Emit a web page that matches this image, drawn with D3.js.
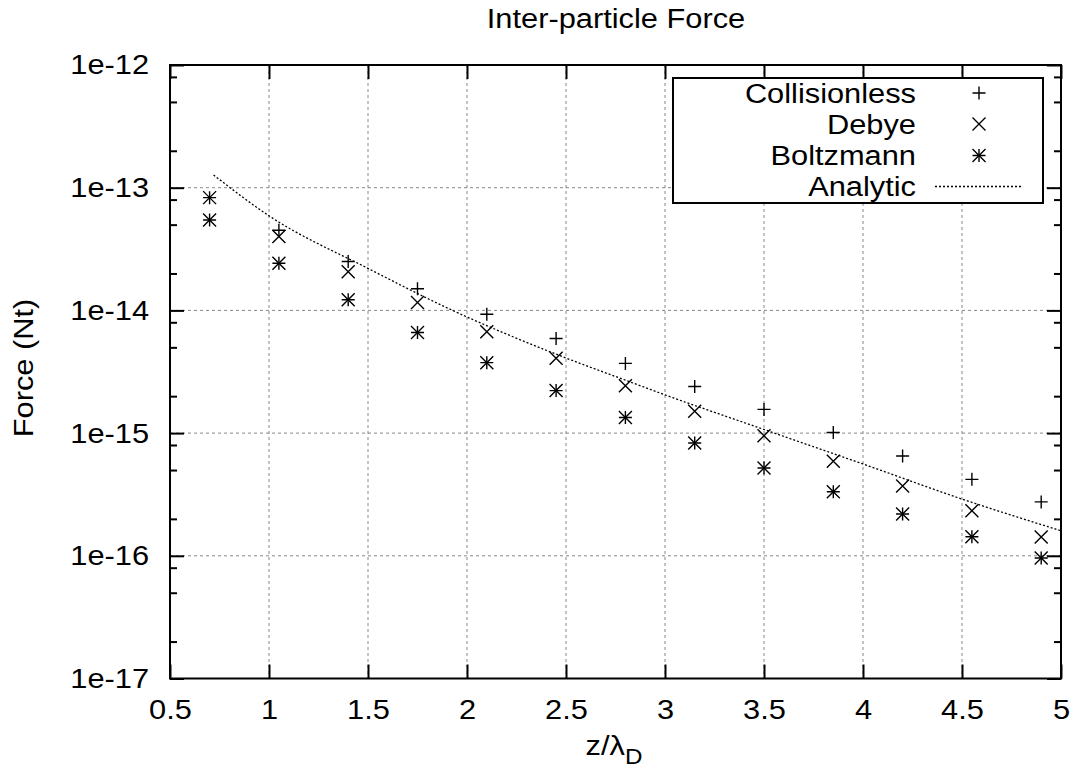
<!DOCTYPE html>
<html>
<head>
<meta charset="utf-8">
<script src="https://cdn.jsdelivr.net/npm/d3@7"></script>
<style>
  body { margin: 0; background: #fff; }
  text { font-family: "Liberation Sans", Arial, sans-serif; fill: #000; }
</style>
</head>
<body>
<svg id="chart" width="1073" height="776"></svg>
<script>
// Sample positions (z / lambda_D)
const zVals = [0.7, 1.05, 1.4, 1.75, 2.1, 2.45, 2.8, 3.15, 3.5, 3.85, 4.2, 4.55, 4.9];

// Force values (Nt)
const collisionless = [8.3e-14, 4.5e-14, 2.5e-14, 1.5e-14, 9.3e-15, 5.9e-15, 3.7e-15, 2.4e-15, 1.56e-15, 1.01e-15, 6.5e-16, 4.2e-16, 2.75e-16];
const debye = [8.3e-14, 4.0e-14, 2.07e-14, 1.16e-14, 6.7e-15, 4.07e-15, 2.43e-15, 1.51e-15, 9.5e-16, 5.9e-16, 3.7e-16, 2.33e-16, 1.42e-16];
const boltzmann = [5.45e-14, 2.42e-14, 1.22e-14, 6.6e-15, 3.75e-15, 2.22e-15, 1.34e-15, 8.3e-16, 5.2e-16, 3.33e-16, 2.19e-16, 1.43e-16, 9.6e-17];

// Analytic curve
const analyticZ = [0.72, 1.0, 1.5, 1.91, 2.45, 2.8, 3.0, 3.5, 4.0, 4.5, 5.0];
const analyticF = [1.27e-13, 5.9e-14, 2.2e-14, 1.03e-14, 4.4e-15, 2.7e-15, 2.05e-15, 1.07e-15, 5.6e-16, 2.9e-16, 1.6e-16];

// Axis ticks
const xTicks = [0.5, 1, 1.5, 2, 2.5, 3, 3.5, 4, 4.5, 5];
const yTicks = [1e-12, 1e-13, 1e-14, 1e-15, 1e-16, 1e-17];
const yTickLabels = ["1e-12", "1e-13", "1e-14", "1e-15", "1e-16", "1e-17"];
const yMinor = [8e-13, 5e-13, 2e-13, 8e-14, 5e-14, 2e-14, 8e-15, 5e-15, 2e-15, 8e-16, 5e-16, 2e-16, 8e-17, 5e-17, 2e-17];

const seriesNames = ["Collisionless", "Debye", "Boltzmann", "Analytic"];

const svg = d3.select("#chart");
const pL = 170, pR = 1061, pT = 65, pB = 678.5;
const K = 1.1; // the original lettering is a bit wider than Liberation Sans

const x = d3.scaleLinear().domain([0.5, 5]).range([pL, pR]);
const y = d3.scaleLog().domain([1e-17, 1e-12]).range([pB, pT]);

// widen text horizontally around its anchor point
function stretch(sel) {
    sel.each(function() {
        const t = d3.select(this);
        const ax = +t.attr("x") || 0;
        const tr = t.attr("transform") || "";
        t.attr("transform", `${tr} translate(${ax},0) scale(${K},1) translate(${-ax},0)`);
    });
}

// grid
const grid = svg.append("g").attr("stroke", "#888").attr("stroke-width", 1).attr("stroke-dasharray", "3,3");
grid.selectAll("line.gx")
    .data(xTicks.slice(1, -1))
    .enter().append("line")
    .attr("x1", d => x(d)).attr("x2", d => x(d))
    .attr("y1", pT).attr("y2", pB);
grid.selectAll("line.gy")
    .data(yTicks.slice(1, -1))
    .enter().append("line")
    .attr("x1", pL).attr("x2", pR)
    .attr("y1", d => y(d)).attr("y2", d => y(d));

// axes (ticks point inward, mirrored on top/right)
const fmtY = d => yTickLabels[yTicks.indexOf(d)];
svg.append("g")
    .attr("transform", `translate(0,${pB})`)
    .call(d3.axisBottom(x).tickValues(xTicks).tickFormat(d3.format("")).tickSizeInner(-14).tickSizeOuter(0).tickPadding(21));
svg.append("g")
    .attr("transform", `translate(${pL},0)`)
    .call(d3.axisLeft(y).tickValues(yTicks).tickFormat(fmtY).tickSizeInner(-14).tickSizeOuter(0).tickPadding(21));
svg.append("g")
    .attr("transform", `translate(0,${pT})`)
    .call(d3.axisTop(x).tickValues(xTicks).tickFormat("").tickSizeInner(-14).tickSizeOuter(0));
svg.append("g")
    .attr("transform", `translate(${pR},0)`)
    .call(d3.axisRight(y).tickValues(yTicks).tickFormat("").tickSizeInner(-14).tickSizeOuter(0));
svg.append("g")
    .attr("transform", `translate(${pL},0)`)
    .call(d3.axisLeft(y).tickValues(yMinor).tickFormat("").tickSizeInner(-7).tickSizeOuter(0));
svg.append("g")
    .attr("transform", `translate(${pR},0)`)
    .call(d3.axisRight(y).tickValues(yMinor).tickFormat("").tickSizeInner(-7).tickSizeOuter(0));

svg.selectAll(".domain").remove();
svg.selectAll(".tick line").attr("stroke", "#000").attr("stroke-width", 2);
svg.selectAll(".tick text")
    .attr("font-size", 28)
    .attr("font-family", "Liberation Sans, Arial, sans-serif")
    .call(stretch);

// frame
svg.append("rect")
    .attr("x", pL).attr("y", pT)
    .attr("width", pR - pL).attr("height", pB - pT)
    .attr("fill", "none").attr("stroke", "#000").attr("stroke-width", 2);

// markers
const S = 6.5;
function plus(g, cx, cy) {
    g.append("path").attr("d", `M${cx - S},${cy}H${cx + S}M${cx},${cy - S}V${cy + S}`);
}
function cross(g, cx, cy) {
    g.append("path").attr("d", `M${cx - S},${cy - S}L${cx + S},${cy + S}M${cx - S},${cy + S}L${cx + S},${cy - S}`);
}
function star(g, cx, cy) { plus(g, cx, cy); cross(g, cx, cy); }

// analytic line
const line = d3.line().x(d => x(d[0])).y(d => y(d[1])).curve(d3.curveMonotoneX);
svg.append("path")
    .datum(analyticZ.map((z, i) => [z, analyticF[i]]))
    .attr("d", line)
    .attr("fill", "none").attr("stroke", "#000").attr("stroke-width", 1.3)
    .attr("stroke-dasharray", "2,2");

const marks = svg.append("g").attr("stroke", "#000").attr("stroke-width", 1.4).attr("fill", "none");
zVals.forEach((z, i) => {
    plus(marks, x(z), y(collisionless[i]));
    cross(marks, x(z), y(debye[i]));
    star(marks, x(z), y(boltzmann[i]));
});

// legend
const lg = svg.append("g");
lg.append("rect")
    .attr("x", 673).attr("y", 78).attr("width", 370).attr("height", 125)
    .attr("fill", "#fff").attr("stroke", "#000").attr("stroke-width", 2);
const rowY = [93, 124, 155.5, 186.5];
seriesNames.forEach((name, i) => {
    lg.append("text")
        .attr("x", 916).attr("y", rowY[i]).attr("dy", "0.35em")
        .attr("text-anchor", "end").attr("font-size", 28)
        .text(name)
        .call(stretch);
});
const lm = lg.append("g").attr("stroke", "#000").attr("stroke-width", 1.4).attr("fill", "none");
plus(lm, 979, rowY[0]);
cross(lm, 979, rowY[1]);
star(lm, 979, rowY[2]);
lg.append("line")
    .attr("x1", 935).attr("x2", 1021).attr("y1", rowY[3]).attr("y2", rowY[3])
    .attr("stroke", "#000").attr("stroke-width", 1.3).attr("stroke-dasharray", "2,2");

// titles
svg.append("text")
    .attr("x", 616).attr("y", 28)
    .attr("text-anchor", "middle").attr("font-size", 28)
    .text("Inter-particle Force")
    .call(stretch);

const xl = svg.append("text")
    .attr("x", 614).attr("y", 755)
    .attr("text-anchor", "middle").attr("font-size", 28);
xl.append("tspan").text("z/λ");
xl.append("tspan").attr("dy", 9).attr("font-size", 22).text("D");
xl.call(stretch);

svg.append("text")
    .attr("transform", "translate(33,368) rotate(-90)")
    .attr("text-anchor", "middle").attr("font-size", 28)
    .text("Force (Nt)")
    .call(stretch);
</script>
</body>
</html>
